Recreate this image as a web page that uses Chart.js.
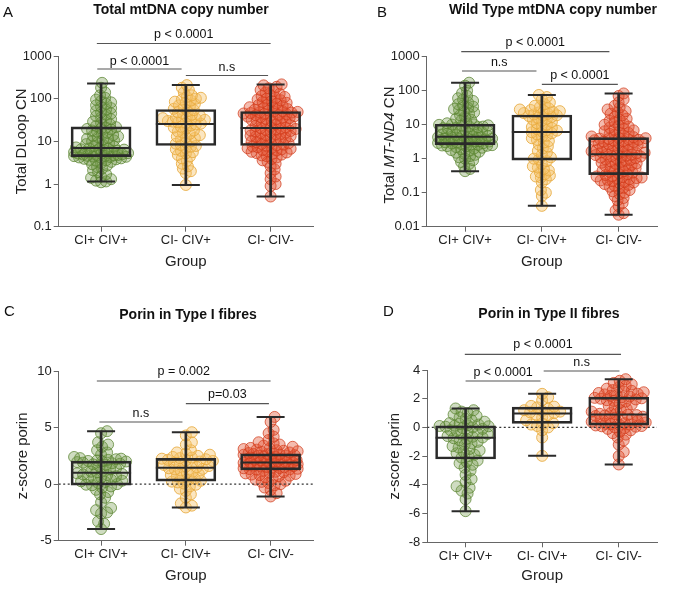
<!DOCTYPE html>
<html>
<head>
<meta charset="utf-8">
<script src="https://cdn.jsdelivr.net/npm/chart.js@4.4.1/dist/chart.umd.min.js"></script>
<style>
  html, body { margin: 0; padding: 0; background: #fff; }
  #wrap { position: relative; width: 689px; height: 589px; }
  canvas { position: absolute; }
</style>
</head>
<body>
<div id="wrap">
  <canvas id="cA" width="345" height="292" style="left:0;top:0;width:345px;height:292px"></canvas>
  <canvas id="cB" width="344" height="292" style="left:345px;top:0;width:344px;height:292px"></canvas>
  <canvas id="cC" width="345" height="297" style="left:0;top:292px;width:345px;height:297px"></canvas>
  <canvas id="cD" width="344" height="297" style="left:345px;top:292px;width:344px;height:297px"></canvas>
</div>
<script>
const groups = ['CI+ CIV+', 'CI- CIV+', 'CI- CIV-'];

// A - Total mtDNA copy number (DLoop)
const aGreen = [1.1,1.15,1.2,1.3,1.4,1.5,1.7,1.9,2.1,2.3,2.5,2.7,2.9,3.1,3.3,3.5,3.6,3.7,3.8,3.9,4.0,4.1,4.2,4.3,4.35,
  4.4,4.5,4.55,4.6,4.7,4.75,4.8,4.9,5.0,5.1,5.2,5.3,5.4,5.5,5.6,5.7,5.8,5.9,6.0,6.2,6.4,6.5,6.7,6.8,6.9,
  7.2,7.5,7.8,8.2,8.6,9,9.5,10,10.5,11,11.5,12,12.5,13,13.5,14,15,16,17,18,19,19.5,20,21,21.5,
  23,25,27,29,31,33,36,39,42,45,48,52,56,60,65,70,76,82,88,95,105,120,140,180,235];
const aOrange = [0.95,1.8,2.0,2.3,2.6,3.0,3.5,4.0,4.4,4.8,5.2,5.6,6.0,6.5,7.0,7.5,7.8,
  8.2,8.8,9.5,10,11,12,12.5,13,14,15,16,17,18,20,21,22,23.5,25,
  26,27,28,29,30,31,32,33,34,35,36,38,40,42,45,48,51,54,
  58,62,66,70,75,80,85,90,95,100,105,110,120,140,160,180,208];
const aRed = [0.51,0.9,1.0,1.3,1.5,1.8,2.2,2.6,3.0,3.3,3.6,3.9,4.2,4.5,4.7,4.9,5.1,5.3,5.5,5.7,5.9,6.1,6.3,6.5,6.7,6.9,7.1,7.3,7.6,7.9,
  8.1,8.4,8.7,9,9.3,9.6,10,10.4,10.8,11.2,11.6,12,12.4,12.8,13.2,13.6,14,14.5,15,15.5,16,16.5,17,17.5,18,18.5,19,19.5,20,20.4,
  21,22,23,24,25,26,27,28,29,30,31,32,33,34,35,36,37,38,39,40,41,42,43,44,45,46,47,48,49,49.8,
  51,53,55,57,59,61,63,65,68,71,74,77,80,84,88,92,96,100,105,110,115,120,130,140,150,160,175,190,205,216];
const aMin = [1.15, 0.95, 0.51];
const aQ1 = [4.4, 8.0, 8.0];
const aMed = [7.0, 25.6, 20.6];
const aQ3 = [21.8, 55.7, 50];
const aMax = [227, 208, 216];
const aTicks = [0.1, 1, 10, 100, 1000];
const aSig = [['p < 0.0001', 0, 2], ['p < 0.0001', 0, 1], ['n.s', 1, 2]];

// B - Wild type mtDNA copy number (MT-ND4)
const bGreen = [0.43,0.5,0.6,0.7,0.8,0.9,1.0,1.1,1.2,1.3,1.4,1.5,1.6,1.7,1.8,1.9,2.0,2.1,2.2,2.3,2.35,2.4,2.45,2.5,2.55,
  2.65,2.7,2.8,2.85,2.9,3.0,3.05,3.1,3.2,3.25,3.3,3.4,3.45,3.5,3.6,3.65,3.7,3.8,3.9,4.0,4.05,4.1,4.2,4.3,4.35,
  4.5,4.6,4.8,5.0,5.2,5.4,5.6,5.8,6.0,6.2,6.5,6.8,7.0,7.3,7.6,7.9,8.2,8.5,8.8,9.0,9.3,9.6,9.9,10.1,10.2,
  11,12,13,14,15,17,19,21,23,25,27,29,31,34,37,40,45,50,55,60,70,85,100,140,172];
const bOrange = [0.041,0.08,0.1,0.12,0.2,0.25,0.28,0.3,0.32,0.35,0.4,0.45,0.5,0.55,0.6,0.7,0.85,
  0.95,1.0,1.1,1.3,1.5,1.7,2.0,2.3,2.6,3.0,3.3,3.6,4.0,4.4,4.8,5.2,5.6,6.0,
  6.3,6.7,7.0,7.5,8.0,8.5,9.0,10,11,12,13,14,15,16,17,18,18.5,19,
  20,21,22,23,24,25,26,27,28,30,33,36,40,45,55,65,75];
const bRed = [0.0225,0.025,0.03,0.04,0.05,0.06,0.07,0.08,0.09,0.1,0.11,0.12,0.13,0.14,0.15,0.16,0.17,0.18,0.19,0.2,0.21,0.22,0.23,0.24,0.25,0.26,0.27,0.28,0.29,0.3,0.31,0.33,
  0.35,0.37,0.39,0.41,0.43,0.45,0.47,0.5,0.52,0.55,0.58,0.6,0.63,0.66,0.7,0.73,0.76,0.8,0.84,0.88,0.92,0.96,1.0,1.04,1.08,1.12,1.16,1.2,1.24,1.28,1.31,1.34,
  1.4,1.45,1.5,1.55,1.6,1.65,1.7,1.75,1.8,1.9,2.0,2.1,2.2,2.3,2.4,2.5,2.6,2.7,2.8,2.9,3.0,3.1,3.2,3.3,3.4,3.5,3.6,3.7,3.8,3.9,4.0,4.1,
  4.3,4.5,4.8,5.1,5.4,5.7,6.0,6.4,6.8,7.2,7.7,8.2,8.8,9.5,10,11,12,13,14,15,17,19,21,23,25,28,32,36,45,55,70,83];
const bMin = [0.43, 0.041, 0.0225];
const bQ1 = [2.6, 0.91, 0.34];
const bMed = [4.4, 6.1, 1.35];
const bQ3 = [10.3, 19.3, 4.15];
const bMax = [172, 74.8, 83];
const bTicks = [0.01, 0.1, 1, 10, 100, 1000];
const bSig = [['p < 0.0001', 0, 2], ['n.s', 0, 1], ['p < 0.0001', 1, 2]];

// C - Porin in type I fibres
const cGreen = [-3.97,-3.5,-3.3,-2.6,-2.5,-2.3,-2.1,-1.6,-1.2,-0.9,-0.7,-0.5,-0.3,-0.2,-0.1,
  -0.05,0.0,0.1,0.2,0.25,0.3,0.4,0.5,0.55,0.6,0.7,0.8,0.85,0.9,0.95,
  1.05,1.1,1.2,1.3,1.4,1.5,1.6,1.7,1.75,1.8,1.85,1.9,1.95,2.0,2.02,
  2.05,2.1,2.15,2.2,2.25,2.3,2.4,2.6,2.8,3.0,3.3,3.5,3.7,4.5,4.68];
const cOrange = [-2.06,-1.9,-1.7,-1.2,-0.9,-0.6,-0.4,-0.2,-0.05,0.05,0.15,0.22,
  0.3,0.4,0.5,0.6,0.7,0.8,0.9,1.0,1.1,1.2,1.3,1.35,1.4,
  1.5,1.55,1.6,1.7,1.75,1.8,1.9,2.0,2.05,2.1,2.15,2.2,2.25,
  2.3,2.35,2.4,2.5,2.6,2.7,2.8,3.0,3.5,3.7,4.3,4.59];
const cRed = [-1.09,-0.8,-0.5,-0.3,-0.1,0.0,0.1,0.2,0.3,0.4,0.5,0.6,0.7,0.75,0.8,0.85,0.9,0.95,1.0,1.05,1.1,1.2,
  1.28,1.3,1.33,1.36,1.4,1.43,1.46,1.5,1.53,1.56,1.6,1.63,1.66,1.7,1.73,1.76,1.8,1.82,1.84,1.86,1.88,1.9,
  1.93,1.96,2.0,2.03,2.06,2.1,2.13,2.16,2.2,2.23,2.26,2.3,2.35,2.4,2.45,2.5,2.53,2.56,2.6,2.63,2.65,2.67,
  2.7,2.75,2.8,2.85,2.9,2.95,3.0,3.05,3.1,3.15,3.2,3.3,3.4,3.5,3.6,3.7,3.9,4.2,4.5,4.8,5.5,5.94];
const cMin = [-3.97, -2.06, -1.09];
const cQ1 = [-0.09, 0.26, 1.26];
const cMed = [1.0, 1.44, 1.91];
const cQ3 = [2.03, 2.27, 2.68];
const cMax = [4.68, 4.59, 5.94];
const cTicks = [-5, 0, 5, 10];
const cSig = [['p = 0.002', 0, 2], ['p=0.03', 1, 2], ['n.s', 0, 1]];

// D - Porin in type II fibres
const dGreen = [-5.83,-5.0,-4.6,-4.4,-4.2,-4.1,-3.8,-3.6,-3.3,-3.0,-2.8,-2.6,-2.5,-2.4,-2.3,
  -2.1,-2.0,-1.9,-1.8,-1.7,-1.6,-1.5,-1.4,-1.3,-1.2,-1.1,-1.0,-0.9,-0.8,-0.75,
  -0.7,-0.65,-0.6,-0.5,-0.45,-0.4,-0.3,-0.25,-0.2,-0.1,-0.05,0.0,0.05,0.08,0.1,
  0.12,0.15,0.2,0.25,0.3,0.4,0.5,0.6,0.7,0.8,0.9,1.0,1.1,1.2,1.32];
const dOrange = [-1.98,-0.7,-0.2,0.0,0.1,0.2,0.25,0.3,0.5,0.7,0.85,0.9,1.0,1.05,1.1,1.15,1.2,1.3,1.4,1.45,1.5,1.9,2.1,2.34];
const dRed = [-2.58,-2.0,-1.7,-1.2,-0.9,-0.7,-0.5,-0.4,-0.3,-0.2,-0.1,-0.05,0.0,0.05,0.08,0.1,0.14,
  0.18,0.2,0.22,0.25,0.3,0.35,0.4,0.45,0.5,0.55,0.6,0.65,0.7,0.75,0.8,0.83,0.86,0.88,
  0.92,0.95,1.0,1.1,1.2,1.3,1.4,1.5,1.6,1.7,1.8,1.85,1.9,1.95,2.0,2.03,2.06,2.1,
  2.15,2.2,2.25,2.3,2.35,2.4,2.45,2.5,2.55,2.6,2.7,2.8,2.9,3.0,3.1,3.25,3.36];
const dMin = [-5.83, -1.98, -2.58];
const dQ1 = [-2.2, 0.28, 0.16];
const dMed = [-0.72, 0.97, 0.9];
const dQ3 = [0.11, 1.41, 2.11];
const dMax = [1.32, 2.34, 3.36];
const dTicks = [-8, -6, -4, -2, 0, 2, 4];
const dSig = [['p < 0.0001', 0, 2], ['p < 0.0001', 0, 1], ['n.s', 1, 2]];

const FONT = '"Liberation Sans", Arial, Helvetica, sans-serif';
Chart.defaults.font.family = FONT;
Chart.defaults.color = '#222';

const colors = [
  { bg: 'rgba(108,150,66,0.33)', bd: 'rgba(90,132,48,0.75)' },
  { bg: 'rgba(244,192,100,0.4)', bd: 'rgba(232,170,62,0.85)' },
  { bg: 'rgba(226,78,44,0.38)', bd: 'rgba(210,60,28,0.75)' }
];
const INK = '#2a2a2a';
const AXIS = '#666';

function makePanel(id, p) {
  const canvas = document.getElementById(id);
  const W = canvas.width, H = canvas.height;
  const datasets = [];
  p.points.forEach((arr, g) => {
    datasets.push({
      type: 'scatter',
      data: arr.map(v => ({ x: g, y: v })),
      backgroundColor: colors[g].bg,
      borderColor: colors[g].bd,
      borderWidth: 1,
      pointRadius: 5.5,
      order: 5
    });
  });
  // whiskers
  datasets.push({
    type: 'bar',
    data: groups.map((_, g) => ({ x: g, y: [p.min[g], p.max[g]] })),
    backgroundColor: INK,
    borderWidth: 0,
    barThickness: 2,
    grouped: false,
    order: 3
  });
  // boxes
  datasets.push({
    type: 'bar',
    data: groups.map((_, g) => ({ x: g, y: [p.q1[g], p.q3[g]] })),
    backgroundColor: 'rgba(0,0,0,0)',
    borderColor: INK,
    borderWidth: 2,
    borderSkipped: false,
    barThickness: 60,
    grouped: false,
    order: 2
  });
  // caps
  datasets.push({
    type: 'scatter',
    data: groups.map((_, g) => ({ x: g, y: p.min[g] })).concat(groups.map((_, g) => ({ x: g, y: p.max[g] }))),
    pointStyle: 'line',
    pointRadius: 14,
    borderColor: INK,
    borderWidth: 2,
    order: 1
  });
  // medians
  datasets.push({
    type: 'scatter',
    data: groups.map((_, g) => ({ x: g, y: p.med[g] })),
    pointStyle: 'line',
    pointRadius: 30,
    borderColor: INK,
    borderWidth: 2,
    order: 1
  });
  if (p.zero) {
    datasets.push({
      type: 'line',
      data: [{ x: -0.5, y: 0 }, { x: 2.5, y: 0 }],
      borderColor: '#333',
      borderWidth: 1.3,
      borderDash: [2, 2.5],
      pointRadius: 0,
      order: 0
    });
  }

  const a = p.area;
  const xh = p.xAxisH;
  const deco = {
    id: 'deco',
    afterDraw(chart) {
      const ctx = chart.ctx;
      const xs = chart.scales.x;
      ctx.save();
      ctx.fillStyle = '#111';
      ctx.textBaseline = 'middle';
      ctx.textAlign = 'center';
      ctx.font = 'bold 14px ' + FONT;
      ctx.fillText(p.title, p.titlePos[0], p.titlePos[1]);
      ctx.textAlign = 'left';
      ctx.font = '15px ' + FONT;
      ctx.fillText(p.letter, p.letterPos[0], p.letterPos[1]);
      // significance bars
      ctx.font = '12.5px ' + FONT;
      ctx.textAlign = 'center';
      p.sig.forEach((s, i) => {
        const pos = p.sigPos[i];
        const x1 = xs.getPixelForValue(pos[0]);
        const x2 = xs.getPixelForValue(pos[1]);
        ctx.strokeStyle = '#555';
        ctx.lineWidth = 1.2;
        ctx.beginPath();
        ctx.moveTo(x1, pos[2]);
        ctx.lineTo(x2, pos[2]);
        ctx.stroke();
        ctx.fillStyle = '#111';
        ctx.fillText(s[0], (x1 + x2) / 2, pos[3]);
      });
      // y title with italic gene name
      if (p.yTitleParts) {
        const parts = p.yTitleParts;
        const fonts = parts.map(q => (q[1] ? 'italic ' : '') + '15px ' + FONT);
        let total = 0;
        const widths = parts.map((q, k) => { ctx.font = fonts[k]; const w = ctx.measureText(q[0]).width; total += w; return w; });
        ctx.translate(p.yTitlePos[0], p.yTitlePos[1]);
        ctx.rotate(-Math.PI / 2);
        ctx.textAlign = 'left';
        ctx.fillStyle = '#222';
        let x = -total / 2;
        parts.forEach((q, k) => { ctx.font = fonts[k]; ctx.fillText(q[0], x, 0); x += widths[k]; });
      }
      ctx.restore();
    }
  };

  const yScale = {
    type: p.log ? 'logarithmic' : 'linear',
    min: p.yMin,
    max: p.yMax,
    afterBuildTicks: s => { s.ticks = p.ticks.map(v => ({ value: v })); },
    afterFit: s => { s.width = a.l; },
    ticks: {
      font: { size: 13 },
      color: '#222',
      padding: 2,
      callback: v => String(v)
    },
    grid: { drawOnChartArea: false, drawTicks: true, tickLength: 5, color: AXIS },
    border: { color: AXIS, width: 1 },
    title: p.yTitle ? { display: true, text: p.yTitle, font: { size: 15 }, color: '#222', padding: { top: p.yTitlePad, bottom: 0 } } : { display: false }
  };

  const chart = new Chart(canvas, {
    type: 'bar',
    data: { datasets },
    options: {
      responsive: false,
      animation: false,
      events: [],
      layout: { padding: { left: 0, top: a.t, right: W - a.r, bottom: H - a.b - xh } },
      plugins: { legend: { display: false }, tooltip: { enabled: false } },
      scales: {
        x: {
          type: 'linear',
          min: -0.5,
          max: 2.5,
          offset: false,
          afterBuildTicks: s => { s.ticks = groups.map((_, g) => ({ value: g })); },
          afterFit: s => { s.height = xh; },
          ticks: { font: { size: 13 }, color: '#222', padding: 1, maxRotation: 0, callback: v => groups[v] },
          grid: { drawOnChartArea: false, drawTicks: true, tickLength: 5, color: AXIS, offset: false },
          border: { color: AXIS, width: 1 },
          title: { display: true, text: 'Group', font: { size: 15 }, color: '#222', padding: { top: 0, bottom: p.xTitlePad } }
        },
        y: yScale
      }
    },
    plugins: [deco]
  });

  // spread points of each group horizontally (beeswarm layout on pixel positions)
  const xs = chart.scales.x, ys = chart.scales.y;
  const unit = xs.getPixelForValue(1) - xs.getPixelForValue(0);
  for (let g = 0; g < 3; g++) {
    const pts = chart.data.datasets[g].data;
    const idx = pts.map((_, i) => i).sort((i, j) => pts[i].y - pts[j].y);
    const placed = [];
    const D = p.swarmD, step = 1, maxW = 27;
    idx.forEach(i => {
      const py = ys.getPixelForValue(pts[i].y);
      let best = 0, bestD = -1;
      for (let k = 0; k < 80; k++) {
        const dx = (k % 2 ? 1 : -1) * Math.ceil(k / 2) * step;
        if (Math.abs(dx) > maxW) break;
        let md = 1e9;
        for (const q of placed) {
          const d = Math.hypot(q[0] - dx, q[1] - py);
          if (d < md) md = d;
        }
        if (md >= D) { best = dx; bestD = md; break; }
        if (md > bestD) { bestD = md; best = dx; }
      }
      placed.push([best, py]);
      pts[i].x = g + best / unit;
    });
  }
  chart.update('none');
  return chart;
}

makePanel('cA', {
  title: 'Total mtDNA copy number', titlePos: [181, 10], letter: 'A', letterPos: [3, 13],
  log: true, yMin: 0.1, yMax: 1000, ticks: aTicks,
  points: [aGreen, aOrange, aRed], min: aMin, q1: aQ1, med: aMed, q3: aQ3, max: aMax,
  sig: aSig, sigPos: [[-0.05, 2.0, 43.5, 35], [-0.045, 0.95, 69, 61.5], [1.0, 1.97, 75.5, 68]],
  area: { l: 58.7, t: 56, r: 315, b: 226.7 }, xAxisH: 48, xTitlePad: 4,
  yTitle: 'Total DLoop CN', yTitlePad: 13, swarmD: 5
});

makePanel('cB', {
  title: 'Wild Type mtDNA copy number', titlePos: [208, 10], letter: 'B', letterPos: [32, 13],
  log: true, yMin: 0.01, yMax: 1000, ticks: bTicks,
  points: [bGreen, bOrange, bRed], min: bMin, q1: bQ1, med: bMed, q3: bQ3, max: bMax,
  sig: bSig, sigPos: [[-0.05, 1.88, 51.7, 42.5], [-0.04, 0.93, 71, 62.5], [1.0, 1.99, 84.3, 76]],
  area: { l: 81.7, t: 56.7, r: 336, b: 226.7 }, xAxisH: 48, xTitlePad: 4,
  yTitle: null, yTitleParts: [['Total ', false], ['MT-ND4', true], [' CN', false]], yTitlePos: [45, 145],
  swarmD: 5
});

makePanel('cC', {
  title: 'Porin in Type I fibres', titlePos: [188, 23], letter: 'C', letterPos: [4, 20],
  log: false, yMin: -5, yMax: 10, ticks: cTicks, zero: true,
  points: [cGreen, cOrange, cRed], min: cMin, q1: cQ1, med: cMed, q3: cQ3, max: cMax,
  sig: cSig, sigPos: [[-0.05, 2.0, 89, 79.5], [1.0, 1.98, 111.7, 102.5], [-0.02, 0.96, 130, 122]],
  area: { l: 58.7, t: 79, r: 315, b: 248.7 }, xAxisH: 46, xTitlePad: 2,
  yTitle: 'z-score porin', yTitlePad: 14, swarmD: 6
});

makePanel('cD', {
  title: 'Porin in Type II fibres', titlePos: [204, 22], letter: 'D', letterPos: [38, 20],
  log: false, yMin: -8, yMax: 4, ticks: dTicks, zero: true,
  points: [dGreen, dOrange, dRed], min: dMin, q1: dQ1, med: dMed, q3: dQ3, max: dMax,
  sig: dSig, sigPos: [[-0.01, 2.03, 62.3, 53], [0.0, 0.98, 89, 81], [1.02, 2.01, 79, 70.5]],
  area: { l: 82.3, t: 78, r: 340, b: 250.3 }, xAxisH: 45, xTitlePad: 2,
  yTitle: 'z-score porin', yTitlePad: 41, swarmD: 6
});
</script>
</body>
</html>
